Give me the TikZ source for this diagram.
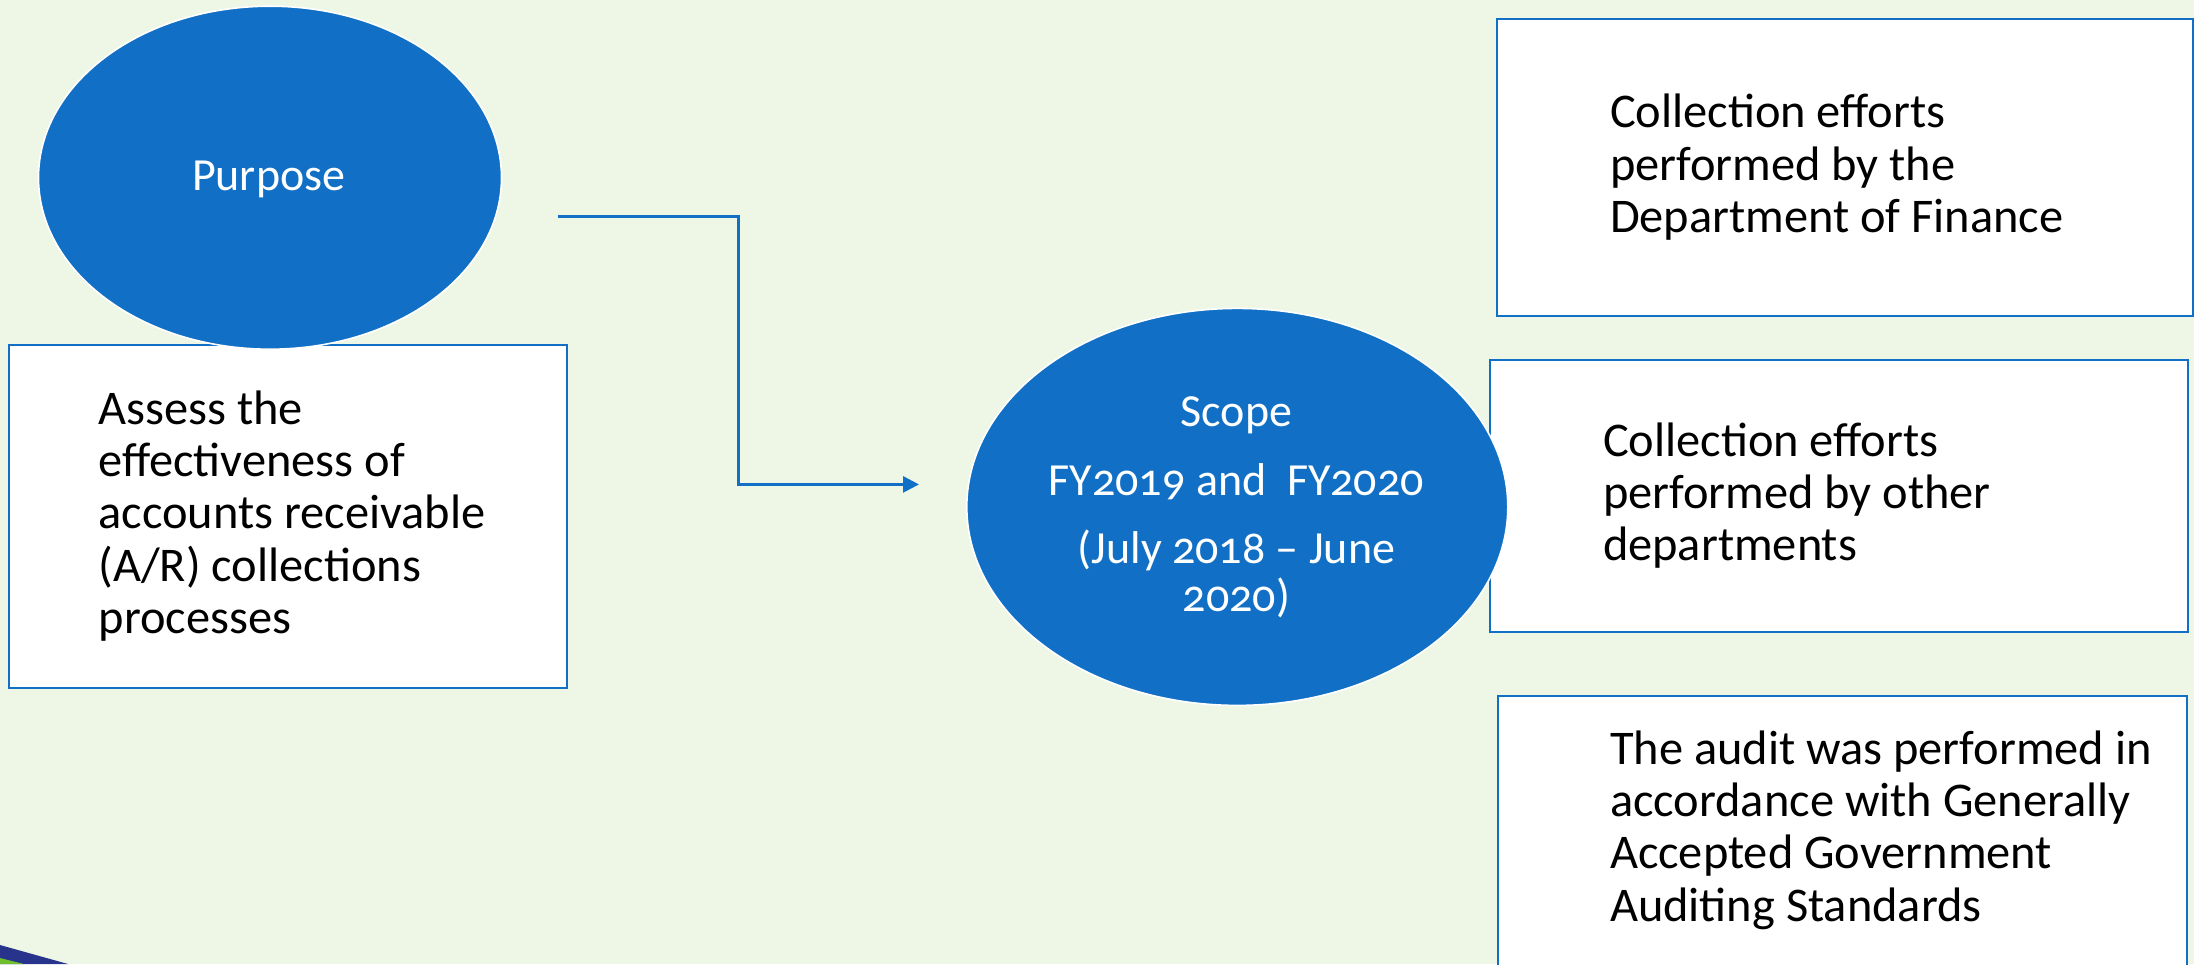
\documentclass[tikz,border=0pt]{standalone}
\usepackage{fontspec}
\setmainfont{Carlito}[Numbers=OldStyle]
\usetikzlibrary{shapes.geometric,arrows.meta}
\definecolor{bg}{RGB}{238,247,230}
\definecolor{ablue}{RGB}{17,112,198}
\definecolor{navy}{RGB}{40,52,140}
\definecolor{sgreen}{RGB}{110,190,46}
\tikzset{
  oval/.style={ellipse, fill=ablue, draw=white, line width=0.8pt, inner sep=0pt},
  infobox/.style={rectangle, fill=white, draw=ablue, line width=1pt, inner sep=0pt, anchor=north west},
  boxtext/.style={anchor=base west, inner sep=0pt, text=black},
  ovaltext/.style={anchor=base, inner sep=0pt, text=white},
  link/.style={draw=ablue, line width=1.3pt, -{Triangle[length=8pt,width=8pt]}}
}
\newcommand{\bodysize}{\fontsize{24.2}{26.15}\selectfont}
\newcommand{\labelsize}{\fontsize{23}{24.35}\selectfont}
\begin{document}
\begin{tikzpicture}[x=0.5pt,y=-0.5pt]
\fill[bg] (0,0) rectangle (2194,964);
\useasboundingbox (0,0) rectangle (2194,964);
% corner swoosh
\fill[navy] (0,945) -- (68,964) -- (0,964) -- cycle;
\fill[sgreen] (0,958) -- (24,964) -- (0,964) -- cycle;
% boxes
\node[infobox, minimum width=278.8pt, minimum height=171.35pt] (assessbox) at (8.4,344) {};
\node[infobox, minimum width=348pt, minimum height=148.2pt] (financebox) at (1496,18.4) {};
\node[infobox, minimum width=349pt, minimum height=136.2pt] (otherbox) at (1489,359) {};
\node[infobox, minimum width=344.3pt, minimum height=137.15pt] (auditbox) at (1497.4,694.7) {};
% ellipses
\node[oval, minimum width=231.5pt, minimum height=171.5pt] (purpose) at (270,177.7) {};
\node[oval, minimum width=270.5pt, minimum height=198.5pt] (scope) at (1237.3,506.9) {};
% texts
\node[ovaltext] (purposetext) at (268.7,190.6) {\labelsize Purpose};
\node[ovaltext] (scopetext) at (1236.4,426.7) {\labelsize\begin{tabular}[t]{@{}c@{}}Scope\\[9.8pt] FY2019 and\ \ FY2020\\[9.65pt] (July 2018 -- June\\ 2020)\end{tabular}};
\node[boxtext] (assesstext) at (98.2,424.2) {\bodysize\begin{tabular}[t]{@{}l@{}}Assess the\\ effectiveness of\\ accounts receivable\\ (A/R) collections\\ processes\end{tabular}};
\node[boxtext] (financetext) at (1609.6,127.9) {\bodysize\begin{tabular}[t]{@{}l@{}}Collection efforts\\ performed by the\\ Department of Finance\end{tabular}};
\node[boxtext] (othertext) at (1602.6,456.2) {\bodysize\begin{tabular}[t]{@{}l@{}}Collection efforts\\ performed by other\\ departments\end{tabular}};
\node[boxtext] (audittext) at (1609.6,764.2) {\bodysize\begin{tabular}[t]{@{}l@{}}The audit was performed in\\ accordance with Generally\\ Accepted Government\\ Auditing Standards\end{tabular}};
% connector
\coordinate (cstart) at (557.7,216.4);
\coordinate (bend) at (738.7,484.4);
\coordinate (cend) at (919,484.4);
\draw[link] (cstart) -| (bend) -- (cend);
\end{tikzpicture}
\end{document}
